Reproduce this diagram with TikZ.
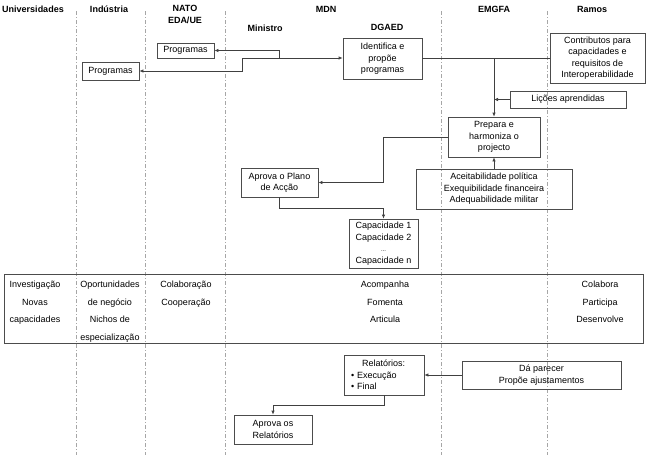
\documentclass[tikz,border=0pt]{standalone}
\usepackage{fontspec}
\setmainfont{Liberation Sans}
\usepackage{tikz}
\usetikzlibrary{arrows.meta,positioning,calc}

\begin{document}
\begin{tikzpicture}[x=1pt, y=-1pt,
    every node/.style={font=\fontsize{9}{11.5}\selectfont, inner sep=0pt},
    head/.style={font=\bfseries\fontsize{9}{12}\selectfont, align=center},
    box/.style={draw=black!70, line width=0.7pt, align=center},
    cell/.style={align=center, anchor=north, font=\fontsize{9}{17.5}\selectfont},
    lane/.style={draw=black!35, line width=0.5pt, dash pattern=on 4pt off 2pt on 1pt off 2pt},
    arr/.style={draw=black!75, line width=0.7pt, -{Latex[length=4pt,width=3.5pt]}},
    ln/.style={draw=black!75, line width=0.7pt}]
  \useasboundingbox (0,0) rectangle (647,455);

  % colunas
  \foreach \xc in {76,145,225,441,547}
    \draw[lane] (\xc,11) -- (\xc,455);

  \node[head] (hUni) at (33,9) {Universidades};
  \node[head] (hInd) at (109,9) {Indústria};
  \node[head] (hNato) at (185,14) {NATO\\EDA/UE};
  \node[head] (hMdn) at (326,9) {MDN};
  \node[head] (hMin) at (265,28) {Ministro};
  \node[head] (hDga) at (387,27) {DGAED};
  \node[head] (hEmg) at (494,9) {EMGFA};
  \node[head] (hRam) at (592,9) {Ramos};

  % caixas
  \node[box, minimum width=57, minimum height=15] (progN) at (185.5,50.5) {Programas};
  \node[box, minimum width=57, minimum height=18] (progI) at (110.5,71) {Programas};
  \node[box, minimum width=79, minimum height=41] (ident) at (382.5,59) {Identifica e\\propõe\\programas};
  \node[box, minimum width=95, minimum height=50] (contrib) at (597.5,58) {Contributos para\\capacidades e\\requisitos de\\Interoperabilidade};
  \node[box, minimum width=116, minimum height=17] (licoes) at (568,99.5) {Lições aprendidas};
  \node[box, minimum width=92, minimum height=40] (prepara) at (494,137) {Prepara e\\harmoniza o\\projecto};
  \node[box, minimum width=156, minimum height=40] (aceit) at (494,189) {Aceitabilidade política\\Exequibilidade financeira\\Adequabilidade militar};
  \node[box, minimum width=77, minimum height=29] (plano) at (279.5,182.5) {Aprova o Plano\\de Acção};
  \node[box, minimum width=69, minimum height=49] (capac) at (383.5,243.5) {Capacidade 1\\Capacidade 2\\{\fontsize{6}{8}\selectfont ...}\\Capacidade n};

  \node[box, minimum width=639, minimum height=69] (papel) at (323.5,308.5) {};
  \node[cell] (cUni) at (35,281) {Investigação\\Novas\\capacidades};
  \node[cell] (cInd) at (110,281) {Oportunidades\\de negócio\\Nichos de\\especialização};
  \node[cell] (cNato) at (186,281) {Colaboração\\Cooperação};
  \node[cell] (cMdn) at (385,281) {Acompanha\\Fomenta\\Articula};
  \node[cell] (cRam) at (600,281) {Colabora\\Participa\\Desenvolve};

  \node[box, text width=66, inner xsep=7pt, minimum height=40, align=left] (relat) at (384,375)
    {\hspace*{11pt}Relatórios:\\\textbullet\ Execução\\\textbullet\ Final};
  \node[box, minimum width=159, minimum height=28] (parecer) at (541.5,375) {Dá parecer\\Propõe ajustamentos};
  \node[box, minimum width=78, minimum height=29] (aprovR) at (273,429.5) {Aprova os\\Relatórios};

  % ligacoes
  \coordinate (jl) at (242,58);
  \coordinate (jn) at (279,58);
  \coordinate (jv) at (494,58);
  \draw[ln] (contrib.west) -- (contrib.west -| ident.east);
  \draw[ln] (jl) -- (jn);
  \draw[arr] (jn) -- (jn -| ident.west);
  \draw[arr] (jn) |- (progN.east);
  \draw[arr] (jl) |- (progI.east);
  \draw[arr] (jv) -- (prepara.north);
  \draw[arr] (licoes.west) -- (licoes.west -| jv);
  \draw[arr] (aceit.north) -- (prepara.south);
  \draw[arr] (prepara.west) -- (prepara.west -| capac) |- (plano.east);
  \draw[arr] (plano.south) -- ++(0,11) -| (capac.north);
  \draw[arr] (parecer.west) -- (relat.east);
  \draw[arr] (relat.south) -- ++(0,10) -| (aprovR.north);
\end{tikzpicture}
\end{document}
